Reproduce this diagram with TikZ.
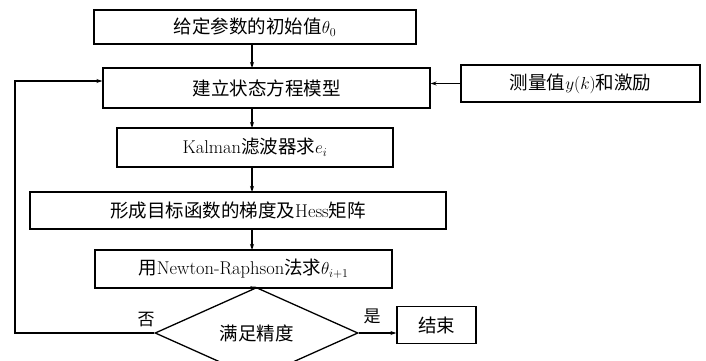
\documentclass[tikz,border=0pt]{standalone}
\usepackage{fontspec}
\newfontfamily\cjk{Noto Sans CJK SC}
\usetikzlibrary{shapes.geometric,arrows.meta}
\begin{document}
\begin{tikzpicture}[x=1pt,y=-1pt,
  box/.style={draw,line width=1.3pt,inner sep=0pt,font=\fontsize{18.5}{20}\selectfont},
  arr/.style={line width=1.1pt,-{Stealth[length=6pt,width=4pt]}},
  lbl/.style={font=\fontsize{17}{19}\selectfont\cjk,inner sep=0pt}]
\useasboundingbox[fill=white] (0,0) rectangle (706,361);
\node[box,minimum width=322pt,minimum height=34pt] (b1) at (255,27) {{\cjk 给定参数的初始值}$\theta_0$};
\node[box,minimum width=327pt,minimum height=40pt] (b2) at (266.5,88) {\cjk 建立状态方程模型};
\node[box,minimum width=276pt,minimum height=39pt] (b3) at (255,147.5) {Kalman{\cjk 滤波器求}$e_i$};
\node[box,minimum width=416pt,minimum height=37pt] (b4) at (238,210.5) {{\cjk 形成目标函数的梯度及}Hess{\cjk 矩阵}};
\node[box,minimum width=297pt,minimum height=38pt] (b5) at (243.5,269) {{\cjk 用}Newton-Raphson{\cjk 法求}$\theta_{i+1}$};
\node[box,shape=diamond,minimum width=203pt,minimum height=54pt] (dia) at (256.5,333) {\cjk 满足精度};
\node[box,minimum width=79pt,minimum height=37pt] (end) at (436.5,325) {\cjk 结束};
\node[box,minimum width=239pt,minimum height=37pt] (meas) at (580.5,83.5) {{\cjk 测量值}$y(k)${\cjk 和激励}};
\node[lbl] (no) at (146,320) {否};
\node[lbl] (yes) at (372,316) {是};
\draw[arr] (252,44) -- (252,68);
\draw[arr] (252,108) -- (252,128);
\draw[arr] (252,167) -- (252,192);
\draw[arr] (252,229) -- (252,250);
\draw[arr] (252,288) -- (dia.north);
\draw[arr] (dia.west) -- (15,333) |- ([yshift=7pt]b2.west);
\draw[arr] (meas.west) -- (meas.west -| b2.east);
\draw[arr] (dia.east) -- (dia.east -| end.west);
\end{tikzpicture}
\end{document}
